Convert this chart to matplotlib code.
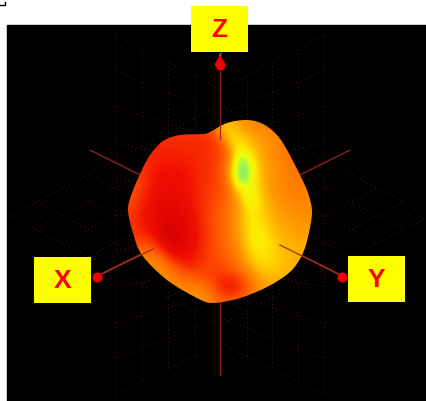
import numpy as np
import matplotlib
matplotlib.use("Agg")
import matplotlib.pyplot as plt
from matplotlib.colors import LinearSegmentedColormap
from matplotlib.path import Path
from matplotlib.patches import PathPatch, Rectangle, Polygon

W, H = 427, 401

# blob outline (pixels)
outline_x = [247, 263, 277, 287, 300, 308, 312, 308, 302, 290, 267, 240, 213, 197, 167, 142, 133, 128, 132, 141, 150, 163, 180, 203, 210, 227]
outline_y = [120, 124, 135, 150, 175, 193, 212, 237, 255, 272, 287, 298, 303, 298, 280, 255, 233, 210, 193, 172, 155, 141, 135, 134, 132, 123]

# surface colour values on a pixel grid
heat_x = list(range(120, 321, 10))
heat_y = list(range(120, 301, 10))
heat = [
    [.30, .30, .30, .30, .30, .30, .30, .30, .32, .45, .60, .62, .55, .52, .50, .48, .46, .46, .46, .46, .46],
    [.30, .30, .30, .30, .30, .30, .30, .30, .30, .34, .60, .68, .60, .54, .52, .50, .48, .46, .46, .46, .46],
    [.28, .28, .28, .28, .27, .27, .27, .27, .27, .28, .36, .70, .70, .62, .56, .54, .50, .47, .46, .46, .46],
    [.30, .30, .28, .26, .25, .25, .25, .26, .27, .28, .32, .52, .80, .68, .58, .54, .50, .46, .45, .45, .45],
    [.34, .34, .30, .25, .24, .22, .23, .24, .26, .29, .33, .50, .96, .82, .60, .55, .50, .47, .45, .45, .45],
    [.36, .36, .32, .24, .20, .20, .20, .23, .26, .30, .34, .58, 1.0, .88, .62, .56, .52, .48, .46, .46, .46],
    [.38, .38, .32, .24, .18, .17, .18, .22, .26, .30, .35, .52, 1.0, .84, .62, .56, .52, .48, .47, .47, .47],
    [.38, .38, .30, .22, .16, .14, .16, .21, .26, .31, .36, .46, .72, .82, .66, .56, .52, .50, .49, .49, .49],
    [.36, .36, .28, .20, .14, .12, .14, .20, .26, .32, .38, .46, .60, .84, .68, .58, .54, .52, .50, .50, .50],
    [.32, .32, .25, .17, .12, .10, .11, .18, .26, .33, .40, .48, .58, .74, .70, .60, .56, .54, .52, .52, .52],
    [.30, .30, .24, .16, .10, .06, .07, .14, .25, .33, .40, .48, .58, .72, .72, .62, .58, .56, .54, .54, .54],
    [.30, .30, .26, .20, .10, .02, .03, .12, .24, .33, .40, .48, .58, .72, .74, .66, .60, .58, .56, .56, .56],
    [.32, .32, .32, .30, .15, .03, .05, .13, .24, .33, .40, .47, .56, .72, .76, .70, .62, .60, .58, .58, .58],
    [.40, .40, .42, .42, .32, .14, .12, .16, .25, .33, .39, .45, .54, .68, .74, .70, .64, .62, .60, .60, .60],
    [.45, .45, .50, .50, .48, .32, .22, .20, .27, .33, .37, .42, .50, .62, .70, .70, .65, .62, .60, .60, .60],
    [.50, .50, .52, .52, .52, .48, .38, .30, .32, .33, .32, .36, .44, .55, .64, .66, .64, .60, .60, .60, .60],
    [.52, .52, .52, .52, .52, .50, .48, .44, .40, .35, .27, .24, .32, .46, .56, .60, .60, .60, .60, .60, .60],
    [.52, .52, .52, .52, .52, .52, .52, .52, .50, .44, .30, .20, .28, .42, .54, .58, .58, .58, .58, .58, .58],
    [.52, .52, .52, .52, .52, .52, .52, .54, .54, .50, .42, .40, .45, .50, .56, .58, .58, .58, .58, .58, .58],
]

# back walls: x position of each vertical, with its top and bottom end
wall_x = [116, 142, 168, 195, 220, 247, 272, 298, 324]
wall_top = [35, 49, 62, 76, 90, 76, 62, 49, 35]
wall_bot = [395, 382, 369, 356, 343, 356, 369, 382, 395]
wall_levels = 10

# horizontal plane corners (left, top, right, bottom)
floor_x = [10, 220, 430, 220]
floor_y = [216, 105, 216, 325]
floor_div = 8

# axes (end to end) and the parts that show in front of the blob
axis_lines = [((97, 276), (350, 150)), ((343, 276), (90, 150)), ((220, 65), (220, 375))]
front_lines = [((100, 275), (153, 249)), ((340, 275), (280, 245)), ((220, 125), (220, 139))]
round_tips = [(220, 64.5), (97, 277), (342.5, 277)]
tip_cone = [(220, 56), (215, 65), (225, 65)]

labels = ["Z", "X", "Y"]
label_boxes = [(191, 6), (34, 257), (348, 256)]
BOX_W, BOX_H = 57, 46


def smooth_path(xs, ys):
    # closed catmull-rom as bezier segments
    p = np.column_stack([xs, ys]).astype(float)
    n = len(p)
    verts = [p[0]]
    codes = [Path.MOVETO]
    for i in range(n):
        p0, p1, p2, p3 = p[i - 1], p[i], p[(i + 1) % n], p[(i + 2) % n]
        verts += [p1 + (p2 - p0) / 6, p2 - (p3 - p1) / 6, p2]
        codes += [Path.CURVE4] * 3
    return Path(verts, codes)


fig = plt.figure(figsize=(W / 100, H / 100), dpi=100)
ax = fig.add_axes([0, 0, 1, 1])
ax.set_xlim(0, W)
ax.set_ylim(H, 0)
ax.axis("off")

ax.add_patch(Rectangle((7, 25), W - 7, H - 25, color="black", zorder=0))
ax.plot([0, 5, 5], [5, 5, 2], color="black", lw=1, zorder=1)

# dotted grid
dot = dict(color="#5a2018", lw=0.6, ls=(0, (1, 4)), zorder=1)
for x, t, b in zip(wall_x, wall_top, wall_bot):
    ax.plot([x, x], [t, b], **dot)
for k in range(wall_levels + 1):
    f = k / wall_levels
    ys = [t + (b - t) * f for t, b in zip(wall_top, wall_bot)]
    ax.plot(wall_x, ys, **dot)

lx, tx, rx, bx = floor_x
ly, ty, ry, by = floor_y
for k in range(floor_div + 1):
    f = k / floor_div
    ax.plot([lx + (bx - lx) * f, tx + (rx - tx) * f], [ly + (by - ly) * f, ty + (ry - ty) * f], **dot)
    ax.plot([lx + (tx - lx) * f, bx + (rx - bx) * f], [ly + (ty - ly) * f, by + (ry - by) * f], **dot)

for a, b in axis_lines:
    ax.plot([a[0], b[0]], [a[1], b[1]], color="#8c2020", lw=1.0, zorder=2)

# surface
cmap = LinearSegmentedColormap.from_list("blob", [
    (0.0, "#d40000"), (0.2, "#f01000"), (0.35, "#ff4a00"), (0.55, "#ff9600"),
    (0.72, "#ffe800"), (0.82, "#e8ff10"), (0.92, "#90f060"), (1.0, "#60e8a8")])
outline = smooth_path(outline_x, outline_y)
im = ax.imshow(heat, cmap=cmap, vmin=0, vmax=1, interpolation="bicubic", origin="upper",
               extent=(heat_x[0] - 5, heat_x[-1] + 5, heat_y[-1] + 5, heat_y[0] - 5),
               aspect="auto", zorder=3)
patch = PathPatch(outline, transform=ax.transData, fc="none", ec="none")
ax.add_patch(patch)
im.set_clip_path(patch)
ax.set_xlim(0, W)
ax.set_ylim(H, 0)

for a, b in front_lines:
    ax.plot([a[0], b[0]], [a[1], b[1]], color="#a03020", lw=0.9, zorder=4)

ax.add_patch(Polygon(tip_cone, closed=True, color="#f00000", zorder=5))
for x, y in round_tips:
    ax.plot(x, y, "o", color="#f00000", ms=7.2, mew=0, zorder=5)
ax.text(220, 54, "z", color="#e8d860", fontsize=4, ha="center", va="center", zorder=5)

for name, (bx0, by0) in zip(labels, label_boxes):
    ax.add_patch(Rectangle((bx0, by0), BOX_W, BOX_H, color="#ffff00", lw=0, zorder=6))
    ax.text(bx0 + BOX_W / 2, by0 + BOX_H / 2 + 1, name, color="#ff0000", fontsize=19, fontweight="bold",
            family="Liberation Sans", ha="center", va="center", zorder=7)

fig.savefig("out.png", dpi=100)
